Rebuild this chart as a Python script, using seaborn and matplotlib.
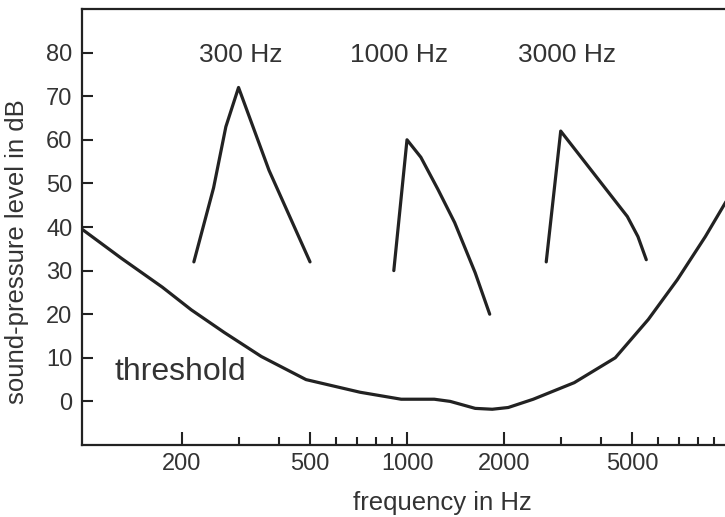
import matplotlib
matplotlib.use("Agg")
import matplotlib.pyplot as plt
import matplotlib.ticker as mticker
import pandas as pd
import seaborn as sns

# Hearing threshold in quiet (frequency in Hz, level in dB)
threshold_freq = [98, 130, 174, 214, 271, 353, 486, 715, 959, 1215, 1362,
                  1628, 1839, 2062, 2466, 3305, 4430, 5611, 6902, 8434, 9900]
threshold_db = [39.5, 32.8, 26.2, 21.0, 15.8, 10.3, 5.0, 2.1, 0.5, 0.5, 0.0,
                -1.6, -1.8, -1.4, 0.5, 4.3, 10.0, 18.8, 27.9, 37.8, 46.5]

# Masking patterns of three tones
mask_300_freq = [218, 251, 274, 300, 373, 500]
mask_300_db = [32, 49, 63, 72, 53, 32]

mask_1000_freq = [910, 1000, 1104, 1248, 1406, 1628, 1806]
mask_1000_db = [30, 60, 56, 48.6, 41, 29.5, 20]

mask_3000_freq = [2705, 3000, 4830, 5210, 5530]
mask_3000_db = [32, 62, 42.4, 37.8, 32.5]

tone_labels = ["300 Hz", "1000 Hz", "3000 Hz"]
tone_label_freq = [305, 944, 3150]

major_xticks = [200, 500, 1000, 2000, 5000]
minor_xticks = [300, 400, 600, 700, 800, 900, 3000, 4000, 6000, 7000, 8000, 9000]
yticks = [0, 10, 20, 30, 40, 50, 60, 70, 80]

sns.set_theme(style="ticks")
plt.rcParams["font.family"] = ["Liberation Sans", "DejaVu Sans"]

ink = "#222222"
text_col = "#333333"

fig = plt.figure(figsize=(7.25, 5.17), dpi=100)
fig.patch.set_facecolor("white")
ax = fig.add_axes([82 / 725, 1 - 445 / 517, (736 - 82) / 725, (445 - 9) / 517])
ax.set_xscale("log")

curves = [
    (threshold_freq, threshold_db),
    (mask_300_freq, mask_300_db),
    (mask_1000_freq, mask_1000_db),
    (mask_3000_freq, mask_3000_db),
]
for freq, db in curves:
    df = pd.DataFrame({"freq": freq, "db": db})
    sns.lineplot(data=df, x="freq", y="db", ax=ax, color=ink, linewidth=2.3,
                 estimator=None, sort=False)

for label, f in zip(tone_labels, tone_label_freq):
    ax.text(f, 77.8, label, ha="center", va="baseline", fontsize=19,
            color=text_col)

ax.text(124, 5.0, "threshold", ha="left", va="baseline", fontsize=23,
        color=text_col)

ax.set_xlim(98, 10500)
ax.set_ylim(-10, 90)

ax.xaxis.set_major_locator(mticker.FixedLocator(major_xticks))
ax.xaxis.set_minor_locator(mticker.FixedLocator(minor_xticks))
ax.xaxis.set_major_formatter(mticker.FixedFormatter([str(t) for t in major_xticks]))
ax.xaxis.set_minor_formatter(mticker.NullFormatter())
ax.set_yticks(yticks)

ax.tick_params(axis="x", which="major", direction="in", length=9.5, width=1.5,
               pad=6, labelsize=17, colors=ink, labelcolor=text_col)
ax.tick_params(axis="x", which="minor", direction="in", length=5.5, width=1.5,
               colors=ink)
ax.tick_params(axis="y", which="major", direction="in", length=8, width=1.5,
               pad=7, labelsize=17, colors=ink, labelcolor=text_col)
ax.tick_params(axis="y", which="minor", left=False)

for side in ["left", "top", "bottom"]:
    ax.spines[side].set_linewidth(1.6)
    ax.spines[side].set_color(ink)
ax.spines["right"].set_visible(False)

ax.set_xlabel("frequency in Hz", fontsize=18.5, color=text_col)
ax.set_ylabel("sound-pressure level in dB", fontsize=18.5, color=text_col)
ax.xaxis.set_label_coords((442 - 82) / 654, (445 - 491) / 436)
ax.yaxis.set_label_coords((29 - 82) / 654, (445 - 252) / 436)

fig.savefig("out.png", dpi=100)
